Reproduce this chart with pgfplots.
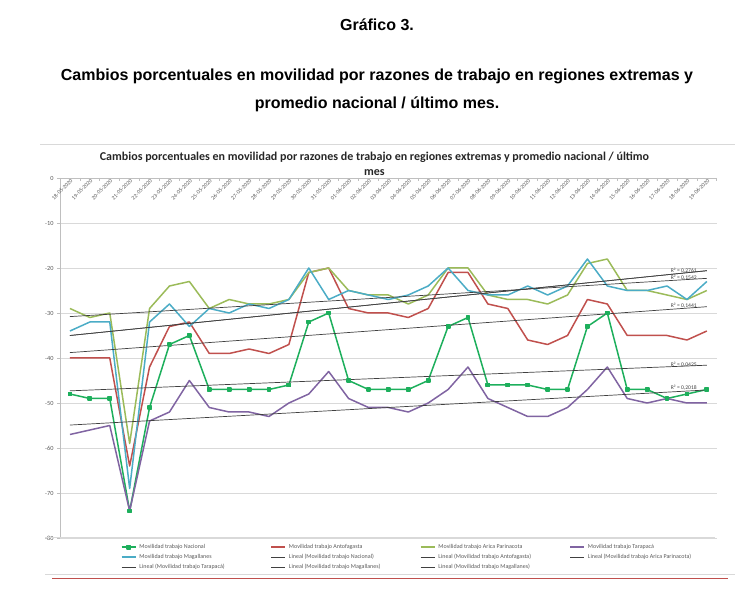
\documentclass[border=0pt]{standalone}
\usepackage{pgfplots}
\pgfplotsset{compat=1.18}
\usepackage{pgfplotstable}
\usepackage{fontspec}
\setmainfont{Carlito}
\newfontfamily\arial{Liberation Sans}

\definecolor{cNac}{HTML}{1DAF5C}
\definecolor{cAnt}{HTML}{C0504D}
\definecolor{cAri}{HTML}{9BBB59}
\definecolor{cTar}{HTML}{8064A2}
\definecolor{cMag}{HTML}{4BACC6}
\definecolor{cTxt}{HTML}{595959}
\definecolor{cGrid}{HTML}{D9D9D9}
\definecolor{cAxis}{HTML}{BFBFBF}
\definecolor{cTrend}{HTML}{404040}

% dia (0 = 18-05-2020), movilidad por razones de trabajo
\pgfplotstableread{
i  nac ant ari tar mag
0  -48 -40 -29 -57 -34
1  -49 -40 -31 -56 -32
2  -49 -40 -30 -55 -32
3  -74 -64 -59 -74 -69
4  -51 -42 -29 -54 -32
5  -37 -33 -24 -52 -28
6  -35 -32 -23 -45 -33
7  -47 -39 -29 -51 -29
8  -47 -39 -27 -52 -30
9  -47 -38 -28 -52 -28
10 -47 -39 -28 -53 -29
11 -46 -37 -27 -50 -27
12 -32 -21 -21 -48 -20
13 -30 -20 -20 -43 -27
14 -45 -29 -25 -49 -25
15 -47 -30 -26 -51 -26
16 -47 -30 -26 -51 -27
17 -47 -31 -28 -52 -26
18 -45 -29 -26 -50 -24
19 -33 -21 -20 -47 -20
20 -31 -21 -20 -42 -25
21 -46 -28 -26 -49 -26
22 -46 -29 -27 -51 -26
23 -46 -36 -27 -53 -24
24 -47 -37 -28 -53 -26
25 -47 -35 -26 -51 -24
26 -33 -27 -19 -47 -18
27 -30 -28 -18 -42 -24
28 -47 -35 -25 -49 -25
29 -47 -35 -25 -50 -25
30 -49 -35 -26 -49 -24
31 -48 -36 -27 -50 -27
32 -47 -34 -25 -50 -23
}\datos

\newcommand{\leg}[1]{\makebox[129pt][l]{#1}}

\begin{document}
\begin{tikzpicture}
\begin{axis}[
  name=ax,
  scale only axis, width=656.8pt, height=360pt,
  xmin=-0.5, xmax=32.5, ymin=-80, ymax=0,
  axis x line*=top, axis y line*=left,
  axis line style={cAxis, line width=0.8pt, -},
  xtick={0,...,32},
  xticklabels={18-05-2020,19-05-2020,20-05-2020,21-05-2020,22-05-2020,23-05-2020,24-05-2020,25-05-2020,26-05-2020,27-05-2020,28-05-2020,29-05-2020,30-05-2020,31-05-2020,01-06-2020,02-06-2020,03-06-2020,04-06-2020,05-06-2020,06-06-2020,07-06-2020,08-06-2020,09-06-2020,10-06-2020,11-06-2020,12-06-2020,13-06-2020,14-06-2020,15-06-2020,16-06-2020,17-06-2020,18-06-2020,19-06-2020},
  xtick style={draw=none},
  extra x ticks={-0.5,0.5,...,32.5},
  extra x tick labels={},
  extra x tick style={xtick style={draw=cAxis, line width=0.8pt}, major tick length=3pt, tick align=inside},
  ytick={-80,-70,...,0},
  yticklabels={-80,-70,-60,-50,-40,-30,-20,-10,0},
  ytick style={draw=cAxis, line width=0.8pt},
  tick align=outside, major tick length=3pt,
  ymajorgrids, grid style={cGrid, line width=0.8pt},
  yticklabel style={font=\fontsize{6.3}{7}\selectfont, text=cTxt},
  xticklabel style={font=\fontsize{5.7}{6}\selectfont, text=cTxt, xshift=1.8pt, yshift=-5pt, rotate=45, anchor=east, inner sep=0pt},
  legend columns=4,
  legend style={at={(0.088,-0.006)}, anchor=north west, draw=none, fill=none,
    font=\fontsize{6}{7}\selectfont, text=cTxt, row sep=0pt,
    cells={anchor=west}, /tikz/every odd column/.append style={column sep=1pt}},
  legend image code/.code={\draw[mark repeat=2,mark phase=2,#1] plot coordinates {(0pt,0pt) (7pt,0pt) (14pt,0pt)};},
  every axis plot/.append style={line join=round},
]
\addplot[cNac, line width=1.5pt, mark=square*, mark size=1.7pt, mark options={solid}] table[x=i, y=nac] {\datos};
\addlegendentry{\leg{Movilidad trabajo Nacional}}
\addplot[cAnt, line width=1.5pt] table[x=i, y=ant] {\datos};
\addlegendentry{\leg{Movilidad trabajo Antofagasta}}
\addplot[cAri, line width=1.5pt] table[x=i, y=ari] {\datos};
\addlegendentry{\leg{Movilidad trabajo Arica Parinacota}}
\addplot[cTar, line width=1.5pt] table[x=i, y=tar] {\datos};
\addlegendentry{\leg{Movilidad trabajo Tarapacá}}
\addplot[cMag, line width=1.5pt] table[x=i, y=mag] {\datos};
\addlegendentry{\leg{Movilidad trabajo Magallanes}}

% lineas de tendencia (lineal)
\addplot[cTrend, line width=0.7pt] coordinates {(0,-47.3) (32,-41.6)};
\addlegendentry{\leg{Lineal (Movilidad trabajo Nacional)}}
\addplot[cTrend, line width=0.7pt] coordinates {(0,-38.8) (32,-28.6)};
\addlegendentry{\leg{Lineal (Movilidad trabajo Antofagasta)}}
\addplot[cTrend, line width=0.7pt] coordinates {(0,-30.8) (32,-22.3)};
\addlegendentry{\leg{Lineal (Movilidad trabajo Arica Parinacota)}}
\addplot[cTrend, line width=0.7pt] coordinates {(0,-54.9) (32,-47.1)};
\addlegendentry{\leg{Lineal (Movilidad trabajo Tarapacá)}}
\addplot[cTrend, line width=0.7pt] coordinates {(0,-35.0) (32,-20.6)};
\addlegendentry{\leg{Lineal (Movilidad trabajo Magallanes)}}
\addplot[cTrend, line width=0.7pt] coordinates {(0,-35.0) (32,-20.6)};
\addlegendentry{\leg{Lineal (Movilidad trabajo Magallanes)}}

\begin{scope}[every node/.style={font=\fontsize{5.6}{6}\selectfont, text=black!75, anchor=east, inner sep=0pt}]
\node at (axis cs:31.5,-20.6) {R² = 0,2761};
\node at (axis cs:31.5,-22.2) {R² = 0,1542};
\node at (axis cs:31.5,-28.4) {R² = 0,1441};
\node at (axis cs:31.5,-41.5) {R² = 0,0425};
\node at (axis cs:31.5,-46.7) {R² = 0,2018};
\end{scope}
\end{axis}

% resto de la pagina, en pixeles respecto de la esquina de la imagen
\begin{scope}[shift={(ax.south west)}, shift={(-60pt,-53pt)}, x=1pt, y=1pt]
\path (0,0) rectangle (754,591);
\node[font=\arial\bfseries\fontsize{16}{18}\selectfont] at (377,566) {Gráfico 3.};
\node[font=\arial\bfseries\fontsize{16}{28}\selectfont, align=center] at (377,501)
  {Cambios porcentuales en movilidad por razones de trabajo en regiones extremas y\\promedio nacional / último mes.};
\draw[cGrid, line width=0.8pt] (40,447) -- (735,447);
\draw[cGrid, line width=0.8pt] (45,54) -- (715,54);
\draw[cGrid, line width=0.8pt] (45,17) -- (735,17);
\draw[cAnt, line width=0.8pt] (52,13) -- (728,13);
\node[font=\bfseries\fontsize{12}{15}\selectfont, text=black!85, align=center] at (374.5,427.5)
  {Cambios porcentuales en movilidad por razones de trabajo en regiones extremas y promedio nacional / último\\mes};
\end{scope}
\end{tikzpicture}
\end{document}
